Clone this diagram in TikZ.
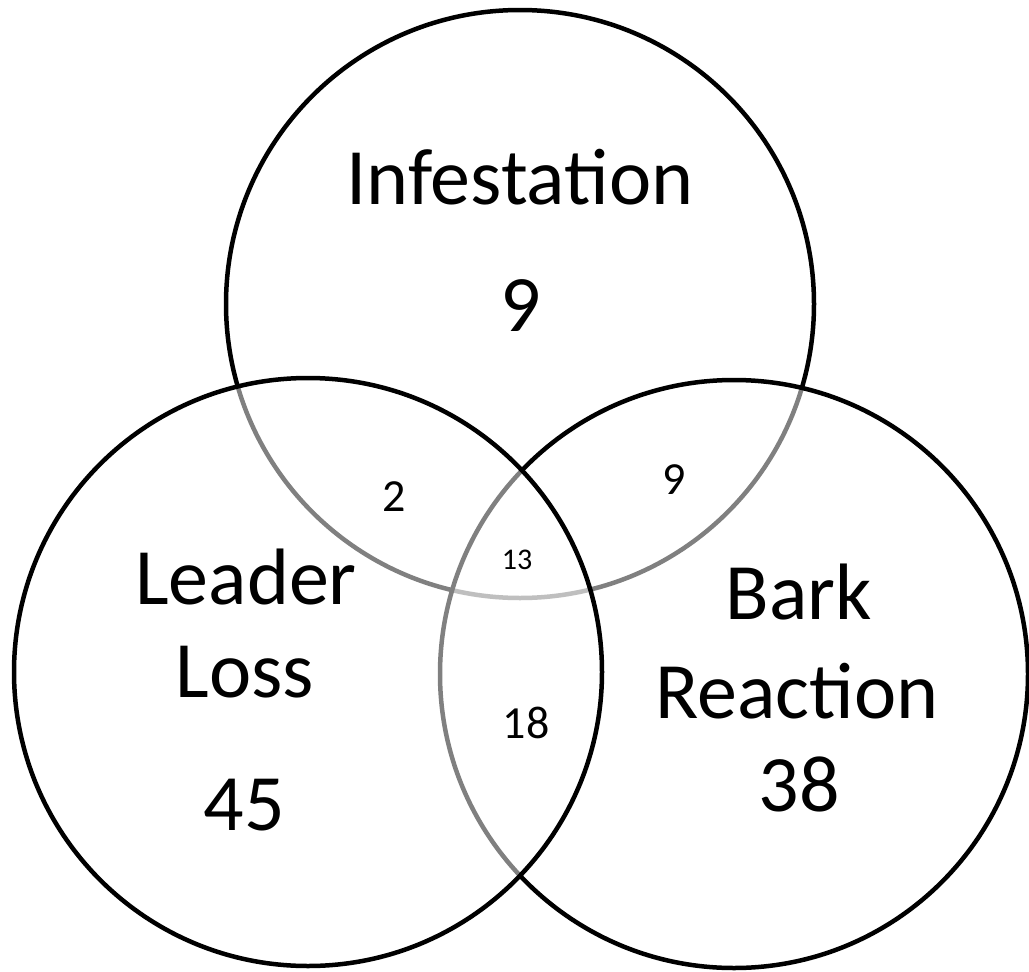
\documentclass[tikz,border=0pt]{standalone}
\usepackage{fontspec}
\setmainfont{Carlito}
\begin{document}
\begin{tikzpicture}[x=1pt,y=-1pt,
  setcircle/.style={draw=black,line width=4.5pt,fill=white,fill opacity=0.5},
  bigtext/.style={anchor=base,inner sep=0pt,font=\fontsize{80}{96}\selectfont},
  midtext/.style={anchor=center,inner sep=0pt,font=\fontsize{46}{55}\selectfont},
  smalltext/.style={anchor=center,inner sep=0pt,font=\fontsize{30}{36}\selectfont}]
\useasboundingbox (0,0) rectangle (1029,972);
\draw[setcircle] (520,304) circle[radius=294];
\draw[setcircle] (734,674) circle[radius=294];
\draw[setcircle] (308,672) circle[radius=294];
\node[bigtext] (inf) at (520,204) {Infestation};
\node[bigtext] (infn) at (521,331) {9};
\node[bigtext] (lead) at (246,604) {Leader};
\node[bigtext] (loss) at (245,697) {Loss};
\node[bigtext] (leadn) at (244,830) {45};
\node[bigtext] (bark) at (799,619) {Bark};
\node[bigtext] (reac) at (797,718) {Reaction};
\node[bigtext] (barkn) at (799,811) {38};
\node[midtext] (il) at (394,497) {2};
\node[midtext] (ib) at (674,480) {9};
\node[smalltext] (all) at (517,560) {13};
\node[midtext] (lb) at (526,723) {18};
\end{tikzpicture}
\end{document}
